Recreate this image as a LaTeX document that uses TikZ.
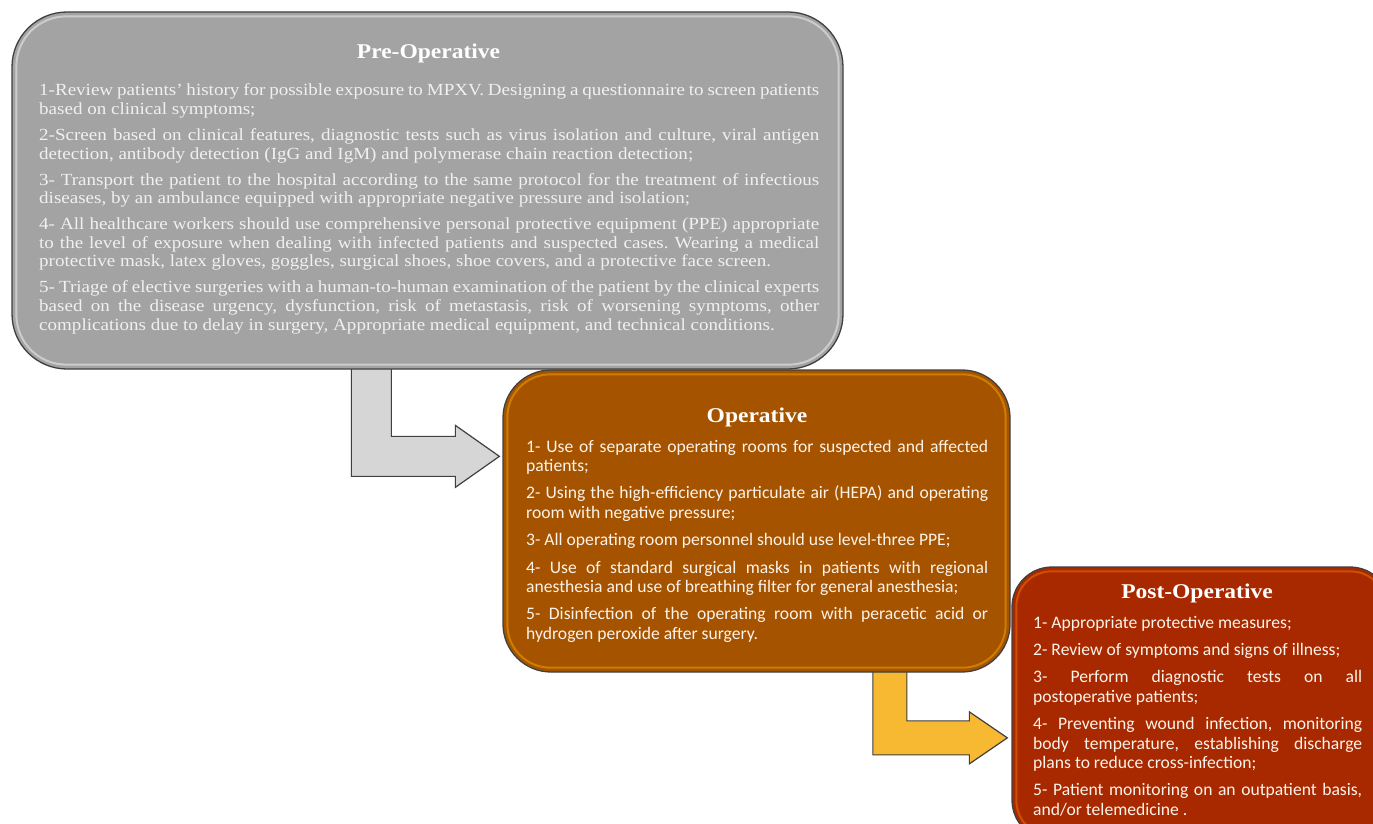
\documentclass[tikz,border=0pt]{standalone}
\usepackage{fontspec}
\usepackage{xcolor}
\usetikzlibrary{positioning, calc, backgrounds}

\newfontfamily\cambriafont{Liberation Serif}[FakeStretch=1.12, WordSpace=0.9]
\newfontfamily\cambriahead{Liberation Serif}[FakeStretch=1.12]
\newfontfamily\calibrifont{Carlito}

\definecolor{pregray}{HTML}{A3A3A3}
\definecolor{opbrown}{HTML}{A65300}
\definecolor{postred}{HTML}{A82900}
\definecolor{arrowgray}{HTML}{D6D6D6}
\definecolor{arrowgold}{HTML}{F7B832}
\definecolor{cream}{HTML}{FBF3EA}

\begin{document}
\begin{tikzpicture}[x=1pt, y=-1pt,
        stage/.style={rectangle, draw=black!75, line width=1.3pt, inner sep=0pt},
        glint/.style={line width=2pt, opacity=0.45},
        heading/.style={anchor=base, inner sep=0pt, text=white, font=\cambriahead\bfseries\fontsize{21}{24}\selectfont},
        body/.style={anchor=base west, inner sep=0pt, align=justify,
            execute at begin node={\setlength{\parskip}{#1}\frenchspacing\hyphenpenalty=10000\tolerance=10000\hbadness=10000}},
        serifbody/.style={body=7.4pt, text=black!6, font=\cambriafont\fontsize{17}{18.6}\selectfont},
        sansbody/.style={body=8pt, text=cream, font=\calibrifont\fontsize{17.6}{19.4}\selectfont},
        blockarrow/.style={draw=black!75, line width=1.2pt, line join=miter}
    ]
        \useasboundingbox (0,0) rectangle (1373,824);
        \clip (0,0) rectangle (1373,824);

        % Boxes
        \node[stage, fill=pregray, rounded corners=55pt, minimum width=831pt, minimum height=357pt] (pre) at (427.5,190.5) {};
        \node[stage, fill=opbrown, rounded corners=48pt, minimum width=507pt, minimum height=302pt] (op) at (756.5,521) {};
        \node[stage, fill=postred, rounded corners=40pt, minimum width=378pt, minimum height=273pt] (post) at (1201,703.5) {};

        % Gloss
        \draw[glint, white, rounded corners=50pt] ($(pre.north west)+(5,5)$) rectangle ($(pre.south east)+(-5,-5)$);
        \draw[glint, orange!60!yellow, rounded corners=43pt] ($(op.north west)+(5,5)$) rectangle ($(op.south east)+(-5,-5)$);
        \draw[glint, orange, rounded corners=35pt] ($(post.north west)+(5,5)$) rectangle ($(post.south east)+(-5,-5)$);

        % Titles
        \node[heading] (pre title) at (428.5,59) {Pre-Operative};
        \node[heading] (op title) at (757,422) {Operative};
        \node[heading] (post title) at (1197,598) {Post-Operative};

        % Texts
        \node[serifbody, text width=780pt] (pre text) at (39,96) {%
            1-Review patients’ history for possible exposure to MPXV. Designing a questionnaire to screen patients\linebreak based on clinical symptoms;\par
            2-Screen based on clinical features, diagnostic tests such as virus isolation and culture, viral antigen\linebreak detection, antibody detection (IgG and IgM) and polymerase chain reaction detection;\par
            3- Transport the patient to the hospital according to the same protocol for the treatment of infectious\linebreak diseases, by an ambulance equipped with appropriate negative pressure and isolation;\par
            4- All healthcare workers should use comprehensive personal protective equipment (PPE) appropriate\linebreak to the level of exposure when dealing with infected patients and suspected cases. Wearing a medical\linebreak protective mask, latex gloves, goggles, surgical shoes, shoe covers, and a protective face screen.\par
            5- Triage of elective surgeries with a human-to-human examination of the patient by the clinical experts\linebreak based on the disease urgency, dysfunction, risk of metastasis, risk of worsening symptoms, other\linebreak complications due to delay in surgery, Appropriate medical equipment, and technical conditions.};
        \node[sansbody, text width=462pt] (op text) at (526,452) {%
            1- Use of separate operating rooms for suspected and affected\linebreak patients;\par
            2- Using the high-efficiency particulate air (HEPA) and operating\linebreak room with negative pressure;\par
            3- All operating room personnel should use level-three PPE;\par
            4- Use of standard surgical masks in patients with regional\linebreak anesthesia and use of breathing filter for general anesthesia;\par
            5- Disinfection of the operating room with peracetic acid or\linebreak hydrogen peroxide after surgery.};
        \node[sansbody, text width=329pt] (post text) at (1033,628) {%
            1- Appropriate protective measures;\par
            2- Review of symptoms and signs of illness;\par
            3- Perform diagnostic tests on all\linebreak postoperative patients;\par
            4- Preventing wound infection, monitoring\linebreak body temperature, establishing discharge\linebreak plans to reduce cross-infection;\par
            5- Patient monitoring on an outpatient basis,\linebreak and/or telemedicine .};

        % Bent arrows
        \coordinate (gs) at ($(pre.south west)+(360,-10)$);
        \coordinate (gt) at ($(op.north west)+(-3,87)$);
        \coordinate (ys) at ($(op.south west)+(387.5,-10)$);
        \coordinate (yt) at ($(post.north west)+(-4,171.5)$);
        \begin{scope}[on background layer]
            \fill[white] (0,0) rectangle (1373,824);
            \draw[blockarrow, fill=arrowgray] ($(gs)+(-20,0)$) |- ($(gt)+(-44,20)$) -- ++(0,11) -- (gt) -- ++(-44,-31) -- ++(0,11) -| ($(gs)+(20,0)$) -- cycle;
            \draw[blockarrow, fill=arrowgold] ($(ys)+(-17,0)$) |- ($(yt)+(-38,17)$) -- ++(0,9) -- (yt) -- ++(-38,-26) -- ++(0,9) -| ($(ys)+(17,0)$) -- cycle;
        \end{scope}
    \end{tikzpicture}
\end{document}
